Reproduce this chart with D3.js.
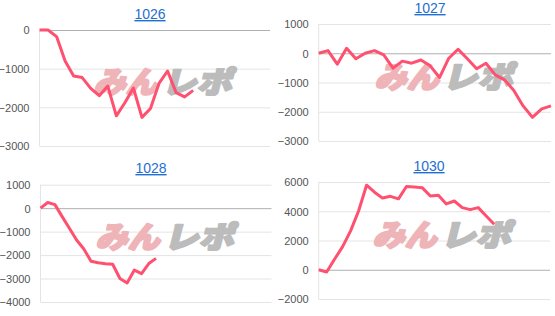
<!DOCTYPE html>
<html lang="ja">
<head>
<meta charset="utf-8">
<title>みんレポ</title>
<script src="https://d3js.org/d3.v7.min.js"></script>
<style>
  body { margin: 0; background: #fff; }
  text { font-family: Arial, "Liberation Sans", sans-serif; }
  .tick text { fill: #555; font-size: 11px; }
  .title { fill: #1f6fd1; font-size: 14px; text-decoration: underline; }
  .mark { font-family: "Noto Sans CJK JP", sans-serif; font-weight: 900; stroke-width: 2.2; stroke-linejoin: round; }
</style>
</head>
<body>
<script>
// machine numbers (panel titles)
var titles = ["1026", "1027", "1028", "1030"];
// number of x slots on each chart (rest of the day is empty)
var slotCounts = [28, 26, 33, 30];
// y axis ticks per chart
var ticks1026 = [0, -1000, -2000, -3000];
var ticks1027 = [1000, 0, -1000, -2000, -3000];
var ticks1028 = [1000, 0, -1000, -2000, -3000, -4000];
var ticks1030 = [6000, 4000, 2000, 0, -2000];
// difference values
var d1026 = [0, 0, -170, -800, -1190, -1230, -1510, -1700, -1450, -2220, -1880, -1500, -2260, -2030, -1380, -1060, -1620, -1730, -1560];
var d1027 = [0, 90, -375, 170, -190, 0, 90, -57, -510, -270, -340, -230, -430, -830, -170, 136, -190, -530, -340, -740, -910, -1270, -1800, -2190, -1900, -1800];
var d1028 = [0, 240, 150, -360, -860, -1360, -1740, -2260, -2330, -2370, -2390, -3000, -3190, -2640, -2790, -2360, -2140];
var d1030 = [0, -150, 730, 1580, 2660, 4020, 5780, 5300, 4900, 5020, 4850, 5690, 5660, 5600, 5040, 5100, 4500, 4700, 4250, 4110, 4250, 3680, 3110];

var series = [d1026, d1027, d1028, d1030];
var tickSets = [ticks1026, ticks1027, ticks1028, ticks1030];

// layout of each panel: plot box, title spot, watermark spot
var layout = [
  { left: 39.5, right: 270, top: 30, bottom: 146, tx: 150, ty: 19, mx: 93, my: 80.5 },
  { left: 318.7, right: 551, top: 24, bottom: 141, tx: 430, ty: 13, mx: 374, my: 75.5 },
  { left: 40.5, right: 271.5, top: 184.7, bottom: 302, tx: 151, ty: 173, mx: 95, my: 235.5 },
  { left: 318.7, right: 550, top: 182, bottom: 299, tx: 429, ty: 171, mx: 372, my: 233.5 }
];

var w = 555, h = 316;
var svg = d3.select("body").append("svg")
  .attr("width", w)
  .attr("height", h);

series.forEach(function(data, i) {
  var L = layout[i];
  var tks = tickSets[i];
  var g = svg.append("g");

  var x = d3.scaleLinear()
    .domain([0, slotCounts[i] - 1])
    .range([L.left, L.right]);
  var y = d3.scaleLinear()
    .domain([d3.min(tks), d3.max(tks)])
    .range([L.bottom, L.top]);

  // gridlines + labels
  var yAxis = d3.axisLeft(y)
    .tickValues(tks)
    .tickSize(-(L.right - L.left))
    .tickPadding(10)
    .tickFormat(d3.format("d"));
  var ax = g.append("g")
    .attr("transform", "translate(" + L.left + ",0)")
    .call(yAxis);
  ax.select(".domain").remove();
  ax.selectAll(".tick line")
    .attr("stroke", function(d) { return d === 0 ? "#b0b0b0" : "#e4e4e4"; });
  ax.selectAll(".tick text").attr("dy", "0.35em");

  // faint left axis line
  g.append("line")
    .attr("x1", L.left).attr("x2", L.left)
    .attr("y1", L.top).attr("y2", L.bottom)
    .attr("stroke", "#e4e4e4");

  // title
  g.append("text")
    .attr("class", "title")
    .attr("x", L.tx)
    .attr("y", L.ty)
    .attr("text-anchor", "middle")
    .text(titles[i]);

  // watermark
  var wm = g.append("g")
    .attr("transform", "translate(" + L.mx + "," + L.my + ") skewX(-14)");
  wm.append("text")
    .attr("class", "mark")
    .attr("x", 4).attr("y", 0)
    .attr("dominant-baseline", "central")
    .attr("font-size", 30)
    .attr("textLength", 64)
    .attr("lengthAdjust", "spacingAndGlyphs")
    .attr("fill", "#eeb4b8")
    .attr("stroke", "#eeb4b8")
    .text("みん");
  wm.append("text")
    .attr("class", "mark")
    .attr("x", 72).attr("y", 0)
    .attr("dominant-baseline", "central")
    .attr("font-size", 30)
    .attr("textLength", 70)
    .attr("lengthAdjust", "spacingAndGlyphs")
    .attr("fill", "#bcbcbc")
    .attr("stroke", "#bcbcbc")
    .text("レポ");

  // the line
  var line = d3.line()
    .x(function(d, j) { return x(j); })
    .y(function(d) { return y(d); });
  g.append("path")
    .datum(data)
    .attr("fill", "none")
    .attr("stroke", "#ff5070")
    .attr("stroke-width", 3)
    .attr("stroke-linejoin", "round")
    .attr("d", line);
});
</script>
</body>
</html>
